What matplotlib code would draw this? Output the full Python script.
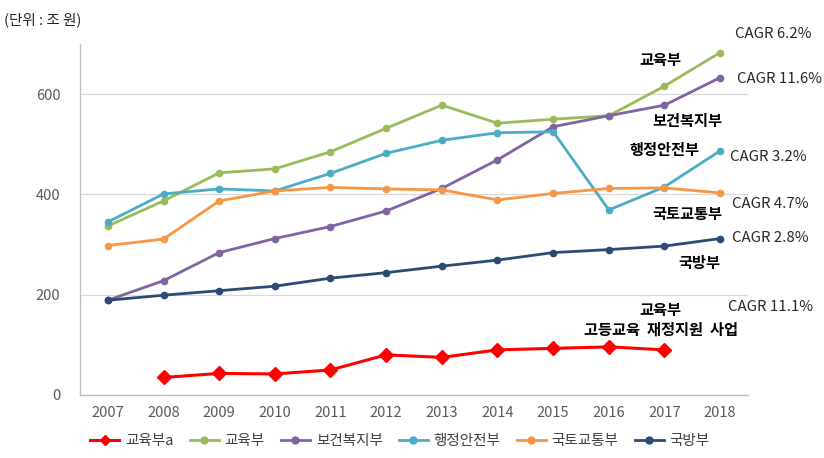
import matplotlib
matplotlib.use("Agg")
import matplotlib.pyplot as plt
import numpy as np

plt.rcParams['font.family'] = ['Noto Sans CJK KR', 'DejaVu Sans']

years = ['2007', '2008', '2009', '2010', '2011', '2012', '2013', '2014', '2015', '2016', '2017', '2018']

edu_a = [np.nan, 35, 43, 42, 50, 80, 75, 90, 93, 96, 90, np.nan]
edu = [337, 387, 443, 451, 485, 532, 578, 542, 550, 557, 616, 683]
welfare = [189, 228, 284, 312, 336, 367, 412, 469, 535, 557, 578, 633]
safety = [345, 401, 411, 407, 442, 482, 508, 523, 525, 369, 415, 487]
land = [298, 311, 387, 407, 414, 411, 409, 389, 402, 412, 413, 403]
defense = [189, 199, 208, 217, 233, 244, 257, 269, 284, 290, 297, 312]

series_names = ['교육부a', '교육부', '보건복지부', '행정안전부', '국토교통부', '국방부']
colors = ['#FF0000', '#9BBB59', '#8064A2', '#4BACC6', '#F79646', '#2B4A74']

fig = plt.figure(figsize=(8.24, 4.58), dpi=100)
ax = fig.add_axes([80/824, 1-395/458, 668/824, 351/458])

x = np.arange(len(years))
data = [edu_a, edu, welfare, safety, land, defense]
for i, (name, vals, c) in enumerate(zip(series_names, data, colors)):
    if i == 0:
        ax.plot(x, vals, color=c, lw=2.2, marker='D', ms=7, label=name, zorder=5)
    else:
        ax.plot(x, vals, color=c, lw=2.0, marker='o', ms=4.5, label=name, zorder=4)

ax.set_xlim(-0.5, 11.5)
ax.set_ylim(0, 700)
ax.set_yticks([0, 200, 400, 600])
ax.set_xticks(x)
ax.set_xticklabels(years)
ax.tick_params(axis='both', length=0, labelsize=10.5, colors='#595959', pad=8)
ax.tick_params(axis='y', pad=14)
ax.grid(axis='y', color='#D9D9D9', lw=0.9)
ax.set_axisbelow(True)
for s in ['top', 'right']:
    ax.spines[s].set_visible(False)
for s in ['left', 'bottom']:
    ax.spines[s].set_color('#BFBFBF')
    ax.spines[s].set_linewidth(1.0)

fig.text(4/824, 1-20/458, '(단위 : 조 원)', fontsize=10.5, color='#262626', va='center', ha='left')

ann_cagr = [('CAGR 6.2%', 735, 34), ('CAGR 11.6%', 737, 79), ('CAGR 3.2%', 730, 157),
            ('CAGR 4.7%', 732, 204), ('CAGR 2.8%', 732, 238), ('CAGR 11.1%', 728, 307)]
for t, px, py in ann_cagr:
    fig.text(px/824, 1-py/458, t, fontsize=10.8, color='#262626', va='center', ha='left')

ann_bold = [('교육부', 681, 60), ('보건복지부', 722, 121), ('행정안전부', 700, 150),
            ('국토교통부', 722, 214), ('국방부', 720, 263), ('교육부', 681, 310),
            ('고등교육  재정지원  사업', 738, 330)]
for t, px, py in ann_bold:
    fig.text(px/824, 1-py/458, t, fontsize=11, fontweight='bold', color='#000000', va='center', ha='right')

leg = fig.legend(loc='center', bbox_to_anchor=(400/824, 1-441/458), ncol=6, frameon=False,
                 fontsize=10.5, handlelength=2.0, columnspacing=1.1, handletextpad=0.4, labelcolor='#404040')
for h in leg.legend_handles:
    h.set_markersize(5)

fig.savefig('out.png', dpi=100)
